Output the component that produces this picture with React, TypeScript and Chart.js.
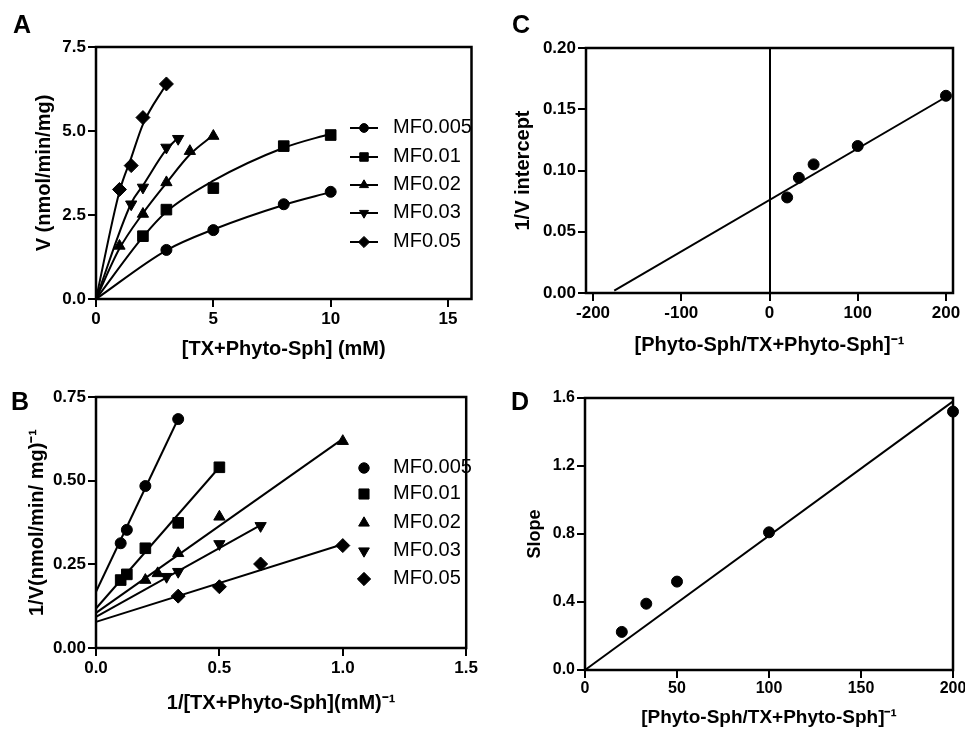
import React, { useEffect, useRef } from 'react';
import { Chart, registerables } from 'chart.js';
import { drawPoint } from 'chart.js/helpers';

Chart.register(...registerables);

const FONT = "'Liberation Sans', Arial, Helvetica, sans-serif";

const seriesNames = ['MF0.005', 'MF0.01', 'MF0.02', 'MF0.03', 'MF0.05'];

// ---------- Panel A : V vs [TX+Phyto-Sph] ----------
const aX005 = [3, 5, 8, 10];
const aY005 = [1.46, 2.05, 2.82, 3.19];
const aX01 = [2, 3, 5, 8, 10];
const aY01 = [1.87, 2.66, 3.3, 4.55, 4.88];
const aX02 = [1, 2, 3, 4, 5];
const aY02 = [1.58, 2.53, 3.47, 4.4, 4.85];
const aX03 = [1.5, 2, 3, 3.5];
const aY03 = [2.82, 3.32, 4.51, 4.77];
const aX05 = [1, 1.5, 2, 3];
const aY05 = [3.26, 3.97, 5.4, 6.4];

// fitted curves
const aFitX005 = [0, 3, 5, 8, 10];
const aFitY005 = [0, 1.45, 2.07, 2.8, 3.18];
const aFitX01 = [0, 2, 3, 5, 8, 10];
const aFitY01 = [0, 1.85, 2.6, 3.52, 4.5, 4.92];
const aFitX02 = [0, 1, 2, 3, 4, 5];
const aFitY02 = [0, 1.5, 2.55, 3.45, 4.3, 4.88];
const aFitX03 = [0, 1.5, 2, 3, 3.5];
const aFitY03 = [0, 2.85, 3.38, 4.45, 4.8];
const aFitX05 = [0, 1, 1.5, 2, 3];
const aFitY05 = [0, 3.2, 4.2, 5.2, 6.4];

const aXTicks = [0, 5, 10, 15];
const aYTicks = [0, 2.5, 5, 7.5];

// ---------- Panel B : Lineweaver-Burk ----------
const bX005 = [0.1, 0.125, 0.2, 0.333];
const bY005 = [0.313, 0.353, 0.484, 0.684];
const bX01 = [0.1, 0.125, 0.2, 0.333, 0.5];
const bY01 = [0.203, 0.22, 0.298, 0.374, 0.54];
const bX02 = [0.2, 0.25, 0.333, 0.5, 1.0];
const bY02 = [0.203, 0.223, 0.283, 0.392, 0.618];
const bX03 = [0.286, 0.333, 0.5, 0.667];
const bY03 = [0.213, 0.228, 0.311, 0.365];
const bX05 = [0.333, 0.5, 0.667, 1.0];
const bY05 = [0.155, 0.183, 0.251, 0.306];

const bFitX005 = [0, 0.333];
const bFitY005 = [0.168, 0.685];
const bFitX01 = [0, 0.5];
const bFitY01 = [0.118, 0.54];
const bFitX02 = [0, 1.0];
const bFitY02 = [0.105, 0.625];
const bFitX03 = [0, 0.667];
const bFitY03 = [0.093, 0.367];
const bFitX05 = [0, 1.0];
const bFitY05 = [0.078, 0.31];

const bXTicks = [0, 0.5, 1.0, 1.5];
const bYTicks = [0, 0.25, 0.5, 0.75];

// ---------- Panel C : 1/V intercept ----------
const cX = [20, 33.3, 50, 100, 200];
const cY = [0.078, 0.094, 0.105, 0.12, 0.161];
const cFitX = [-176, 200];
const cFitY = [0.002, 0.16];
const cXTicks = [-200, -100, 0, 100, 200];
const cYTicks = [0, 0.05, 0.1, 0.15, 0.2];

// ---------- Panel D : Slope ----------
const dX = [20, 33.3, 50, 100, 200];
const dY = [0.224, 0.39, 0.52, 0.81, 1.52];
const dFitX = [0, 200];
const dFitY = [0, 1.58];
const dXTicks = [0, 50, 100, 150, 200];
const dYTicks = [0, 0.4, 0.8, 1.2, 1.6];

// ---------- styles ----------
const markerStyles = ['circle', 'rect', 'triangle', 'triangle', 'rectRot'];
const markerRotations = [0, 0, 0, 180, 0];
const markerRadii = [5.5, 7.5, 6.5, 6.5, 7];

const zip = (xs: number[], ys: number[]) => xs.map((x, k) => ({ x, y: ys[k] }));

function pointsDs(xs: number[], ys: number[], i: number) {
  return {
    data: zip(xs, ys),
    showLine: false,
    pointStyle: markerStyles[i],
    pointRotation: markerRotations[i],
    pointRadius: markerRadii[i],
    pointBackgroundColor: '#000',
    pointBorderColor: '#000',
    pointBorderWidth: 1,
    clip: false,
    order: 1,
  };
}

function lineDs(xs: number[], ys: number[], smooth: boolean) {
  return {
    data: zip(xs, ys),
    showLine: true,
    pointRadius: 0,
    borderColor: '#000',
    borderWidth: 2,
    cubicInterpolationMode: smooth ? 'monotone' : 'default',
    tension: 0,
    clip: false,
    order: 2,
  };
}

function axis(o: {
  min: number; max: number; ticks: number[]; fmt: (v: number) => string;
  title: string; titleSize: number; titlePad: number; box: number; isX: boolean;
  tickSize: number; tickPad: number; zeroLine?: boolean;
}) {
  return {
    type: 'linear',
    min: o.min,
    max: o.max,
    afterBuildTicks: (s: any) => { s.ticks = o.ticks.map((v) => ({ value: v })); },
    afterFit: (s: any) => { if (o.isX) s.height = o.box; else s.width = o.box; },
    ticks: {
      callback: (v: any) => o.fmt(Number(v)),
      font: { family: FONT, size: o.tickSize, weight: 'bold' },
      color: '#000',
      padding: o.tickPad,
      autoSkip: false,
      maxRotation: 0,
      minRotation: 0,
    },
    grid: {
      drawOnChartArea: !!o.zeroLine,
      drawTicks: true,
      tickLength: 8,
      tickWidth: 2,
      tickColor: '#000',
      lineWidth: 2,
      color: o.zeroLine ? (c: any) => (c.tick && c.tick.value === 0 ? '#000' : 'rgba(0,0,0,0)') : '#000',
    },
    border: { display: false },
    title: {
      display: true,
      text: o.title,
      color: '#000',
      font: { family: FONT, size: o.titleSize, weight: 'bold', lineHeight: 1.2 },
      padding: o.isX ? { top: 0, bottom: o.titlePad } : { top: o.titlePad, bottom: 0 },
    },
  };
}

const framePlugin = {
  id: 'frameBox',
  beforeDatasetsDraw(chart: any) {
    const { ctx, chartArea: a } = chart;
    ctx.save();
    ctx.strokeStyle = '#000';
    ctx.lineWidth = 2.5;
    ctx.strokeRect(a.left, a.top, a.right - a.left, a.bottom - a.top);
    ctx.restore();
  },
};

function legendPlugin(x0: number, rows: number[], withLine: boolean, rScale: number) {
  return {
    id: 'customLegend',
    afterDraw(chart: any) {
      const ctx = chart.ctx;
      ctx.save();
      seriesNames.forEach((name, i) => {
        const y = rows[i];
        ctx.strokeStyle = '#000';
        ctx.fillStyle = '#000';
        if (withLine) {
          ctx.beginPath();
          ctx.lineWidth = 2;
          ctx.moveTo(x0 - 14, y);
          ctx.lineTo(x0 + 14, y);
          ctx.stroke();
        }
        ctx.lineWidth = 1;
        drawPoint(ctx, {
          pointStyle: markerStyles[i],
          rotation: markerRotations[i],
          radius: markerRadii[i] * rScale,
          borderWidth: 1,
        } as any, x0, y);
        ctx.font = `20px ${FONT}`;
        ctx.textBaseline = 'middle';
        ctx.textAlign = 'left';
        ctx.fillText(name, x0 + 29, y - 1);
      });
      ctx.restore();
    },
  };
}

function makeConfig(datasets: any[], x: any, y: any, padding: any, plugins: any[]) {
  return {
    type: 'scatter',
    data: { datasets },
    options: {
      responsive: false,
      maintainAspectRatio: false,
      animation: false,
      events: [],
      layout: { padding },
      plugins: { legend: { display: false }, tooltip: { enabled: false } },
      scales: { x, y },
    },
    plugins: [framePlugin, ...plugins],
  } as any;
}

const f0 = (v: number) => v.toFixed(0);
const f1 = (v: number) => v.toFixed(1);
const f2 = (v: number) => v.toFixed(2);

function configA() {
  const ds = [
    pointsDs(aX005, aY005, 0), pointsDs(aX01, aY01, 1), pointsDs(aX02, aY02, 2),
    pointsDs(aX03, aY03, 3), pointsDs(aX05, aY05, 4),
    lineDs(aFitX005, aFitY005, true), lineDs(aFitX01, aFitY01, true), lineDs(aFitX02, aFitY02, true),
    lineDs(aFitX03, aFitY03, true), lineDs(aFitX05, aFitY05, true),
  ];
  return makeConfig(
    ds,
    axis({ min: 0, max: 16, ticks: aXTicks, fmt: f0, title: '[TX+Phyto-Sph] (mM)', titleSize: 20, titlePad: 4, box: 66, isX: true, tickSize: 17, tickPad: 2 }),
    axis({ min: 0, max: 7.5, ticks: aYTicks, fmt: f1, title: 'V (nmol/min/mg)', titleSize: 20, titlePad: 32, box: 96, isX: false, tickSize: 17, tickPad: 2 }),
    { top: 47, right: 7, left: 0, bottom: 0 },
    [legendPlugin(364, [128, 157, 185, 213, 242], true, 0.8)],
  );
}

function configB() {
  const ds = [
    pointsDs(bX005, bY005, 0), pointsDs(bX01, bY01, 1), pointsDs(bX02, bY02, 2),
    pointsDs(bX03, bY03, 3), pointsDs(bX05, bY05, 4),
    lineDs(bFitX005, bFitY005, false), lineDs(bFitX01, bFitY01, false), lineDs(bFitX02, bFitY02, false),
    lineDs(bFitX03, bFitY03, false), lineDs(bFitX05, bFitY05, false),
  ];
  return makeConfig(
    ds,
    axis({ min: 0, max: 1.5, ticks: bXTicks, fmt: f1, title: '1/[TX+Phyto-Sph](mM)⁻¹', titleSize: 20, titlePad: 16, box: 83, isX: true, tickSize: 17, tickPad: 2 }),
    axis({ min: 0, max: 0.75, ticks: bYTicks, fmt: f2, title: '1/V(nmol/min/ mg)⁻¹', titleSize: 20, titlePad: 25, box: 96, isX: false, tickSize: 17, tickPad: 2 }),
    { top: 47, right: 8, left: 0, bottom: 0 },
    [legendPlugin(364, [118, 144, 173, 201, 229], false, 0.95)],
  );
}

function configC() {
  const ds = [
    pointsDs(cX, cY, 0),
    lineDs(cFitX, cFitY, false),
  ];
  return makeConfig(
    ds,
    axis({ min: -208, max: 208, ticks: cXTicks, fmt: f0, title: '[Phyto-Sph/TX+Phyto-Sph]⁻¹', titleSize: 20, titlePad: 8, box: 72, isX: true, tickSize: 17, tickPad: 2, zeroLine: true }),
    axis({ min: 0, max: 0.2, ticks: cYTicks, fmt: f2, title: '1/V intercept', titleSize: 20, titlePad: 31, box: 106, isX: false, tickSize: 17, tickPad: 2 }),
    { top: 48, right: 12, left: 0, bottom: 0 },
    [],
  );
}

function configD() {
  const ds = [
    pointsDs(dX, dY, 0),
    lineDs(dFitX, dFitY, false),
  ];
  return makeConfig(
    ds,
    axis({ min: 0, max: 200, ticks: dXTicks, fmt: f0, title: '[Phyto-Sph/TX+Phyto-Sph]⁻¹', titleSize: 19, titlePad: 2, box: 61, isX: true, tickSize: 16, tickPad: 1 }),
    axis({ min: 0, max: 1.6, ticks: dYTicks, fmt: f1, title: 'Slope', titleSize: 18, titlePad: 44, box: 105, isX: false, tickSize: 16, tickPad: 2 }),
    { top: 48, right: 47, left: 0, bottom: 0 },
    [],
  );
}

function PanelChart(props: { left: number; top: number; width: number; height: number; make: () => any }) {
  const ref = useRef<HTMLCanvasElement>(null);
  useEffect(() => {
    const chart = new Chart(ref.current as HTMLCanvasElement, props.make());
    return () => chart.destroy();
  }, []);
  return (
    <canvas
      ref={ref}
      width={props.width}
      height={props.height}
      style={{ position: 'absolute', left: props.left, top: props.top, width: props.width, height: props.height }}
    />
  );
}

const labelStyle = (left: number, top: number): React.CSSProperties => ({
  position: 'absolute',
  left,
  top,
  fontFamily: FONT,
  fontWeight: 'bold',
  fontSize: 25,
  lineHeight: 1,
  color: '#000',
});

export default function App() {
  return (
    <div style={{ position: 'absolute', left: 0, top: 0, width: 965, height: 731, overflow: 'hidden', background: '#fff' }}>
      <PanelChart left={0} top={0} width={480} height={365} make={configA} />
      <PanelChart left={0} top={350} width={480} height={381} make={configB} />
      <PanelChart left={480} top={0} width={485} height={365} make={configC} />
      <PanelChart left={480} top={350} width={520} height={381} make={configD} />
      <div style={labelStyle(13, 12)}>A</div>
      <div style={labelStyle(11, 389)}>B</div>
      <div style={labelStyle(512, 12)}>C</div>
      <div style={labelStyle(511, 389)}>D</div>
    </div>
  );
}
